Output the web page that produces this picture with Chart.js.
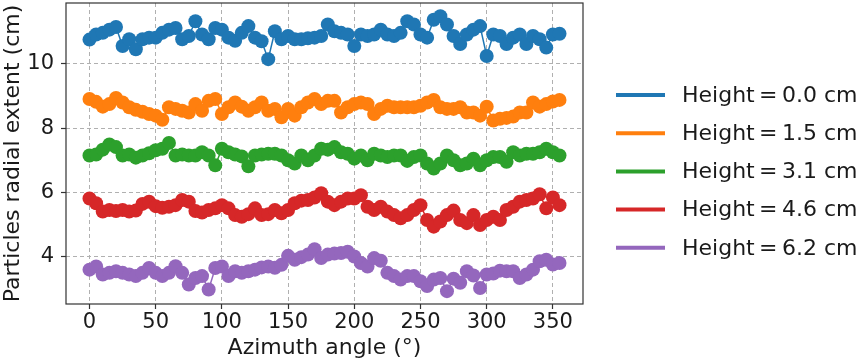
<!DOCTYPE html>
<html>
<head>
<meta charset="utf-8">
<script src="https://cdn.jsdelivr.net/npm/chart.js@4"></script>
<style>
  body { margin: 0; background: #fff; }
  canvas { display: block; }
</style>
</head>
<body>
<canvas id="myChart" width="858" height="362"></canvas>
<script>
const angles = [
  0, 5, 10, 15, 20, 25, 30, 35, 40, 45, 50, 55, 60, 65, 70, 75, 80, 85,
  90, 95, 100, 105, 110, 115, 120, 125, 130, 135, 140, 145, 150, 155, 160, 165, 170, 175,
  180, 185, 190, 195, 200, 205, 210, 215, 220, 225, 230, 235, 240, 245, 250, 255, 260, 265,
  270, 275, 280, 285, 290, 295, 300, 305, 310, 315, 320, 325, 330, 335, 340, 345, 350, 355
];

const height00 = [
  10.76, 10.92, 10.97, 11.07, 11.15, 10.56, 10.77, 10.46, 10.77, 10.82, 10.82, 10.97, 11.07, 11.12, 10.77, 10.87, 11.33, 10.92,
  10.77, 11.12, 11.07, 10.82, 10.72, 10.97, 11.18, 10.82, 10.71, 10.15, 11.02, 10.77, 10.87, 10.77, 10.77, 10.80, 10.82, 10.87,
  11.23, 11.02, 10.97, 10.92, 10.56, 10.92, 10.87, 10.92, 11.07, 10.92, 10.87, 10.97, 11.33, 11.23, 10.92, 10.82, 11.38, 11.49,
  11.23, 10.87, 10.62, 10.92, 11.07, 11.18, 10.25, 10.92, 10.87, 10.62, 10.82, 10.92, 10.62, 10.87, 10.77, 10.51, 10.92, 10.94
];
const height15 = [
  8.91, 8.82, 8.67, 8.75, 8.94, 8.80, 8.65, 8.57, 8.51, 8.44, 8.39, 8.26, 8.65, 8.60, 8.54, 8.49, 8.75, 8.54,
  8.85, 8.91, 8.44, 8.65, 8.80, 8.67, 8.54, 8.65, 8.80, 8.54, 8.60, 8.34, 8.60, 8.39, 8.65, 8.80, 8.91, 8.75,
  8.85, 8.85, 8.49, 8.65, 8.75, 8.80, 8.75, 8.44, 8.60, 8.70, 8.65, 8.65, 8.65, 8.65, 8.70, 8.80, 8.88, 8.65,
  8.60, 8.60, 8.65, 8.49, 8.49, 8.39, 8.67, 8.24, 8.29, 8.32, 8.36, 8.49, 8.49, 8.80, 8.67, 8.75, 8.83, 8.88
];
const height31 = [
  7.15, 7.18, 7.33, 7.49, 7.41, 7.15, 7.18, 7.08, 7.15, 7.22, 7.31, 7.36, 7.54, 7.15, 7.18, 7.15, 7.15, 7.25,
  7.15, 6.84, 7.36, 7.25, 7.18, 7.12, 6.81, 7.15, 7.18, 7.20, 7.20, 7.15, 7.00, 6.90, 7.15, 7.00, 7.15, 7.36,
  7.33, 7.41, 7.25, 7.20, 7.05, 7.15, 7.00, 7.20, 7.15, 7.10, 7.15, 7.15, 6.98, 7.10, 7.15, 6.90, 6.74, 6.90,
  7.15, 7.00, 6.84, 6.90, 7.05, 6.84, 7.00, 7.10, 7.10, 6.95, 7.25, 7.15, 7.20, 7.20, 7.25, 7.36, 7.25, 7.15
];
const height46 = [
  5.81, 5.66, 5.40, 5.45, 5.42, 5.45, 5.40, 5.43, 5.64, 5.71, 5.57, 5.52, 5.55, 5.60, 5.76, 5.71, 5.42, 5.37,
  5.45, 5.50, 5.60, 5.50, 5.29, 5.24, 5.32, 5.50, 5.29, 5.32, 5.45, 5.35, 5.45, 5.66, 5.74, 5.76, 5.84, 5.97,
  5.71, 5.60, 5.71, 5.81, 5.81, 5.91, 5.55, 5.45, 5.55, 5.40, 5.29, 5.19, 5.29, 5.45, 5.60, 5.14, 4.93, 5.09,
  5.29, 5.43, 5.14, 5.04, 5.29, 4.98, 5.14, 5.24, 5.14, 5.45, 5.55, 5.71, 5.76, 5.81, 5.94, 5.50, 5.84, 5.60
];
const height62 = [
  3.59, 3.69, 3.44, 3.49, 3.54, 3.49, 3.44, 3.39, 3.49, 3.64, 3.49, 3.39, 3.49, 3.70, 3.49, 3.13, 3.33, 3.39,
  2.97, 3.64, 3.69, 3.39, 3.54, 3.49, 3.54, 3.59, 3.66, 3.69, 3.65, 3.74, 4.02, 3.90, 3.98, 4.06, 4.23, 3.95,
  4.06, 4.09, 4.11, 4.15, 4.00, 3.80, 3.69, 3.95, 3.87, 3.49, 3.39, 3.28, 3.39, 3.39, 3.23, 3.08, 3.28, 3.33,
  2.92, 3.31, 3.18, 3.54, 3.41, 3.02, 3.44, 3.47, 3.56, 3.54, 3.54, 3.33, 3.44, 3.59, 3.85, 3.90, 3.75, 3.80
];

const seriesLabels = ['Height\u2009=\u20090.0 cm', 'Height\u2009=\u20091.5 cm', 'Height\u2009=\u20093.1 cm', 'Height\u2009=\u20094.6 cm', 'Height\u2009=\u20096.2 cm'];
const seriesColors = ['#1f77b4', '#ff7f0e', '#2ca02c', '#d62728', '#9467bd'];
const xTicks = [0, 50, 100, 150, 200, 250, 300, 350];
const yTicks = [4, 6, 8, 10];

const allSeries = [height00, height15, height31, height46, height62];
const fontFamily = '"DejaVu Sans", sans-serif';

const datasets = allSeries.map((vals, i) => ({
  label: seriesLabels[i],
  data: angles.map((a, j) => ({ x: a, y: vals[j] })),
  borderColor: seriesColors[i],
  backgroundColor: seriesColors[i],
  borderWidth: 1.5,
  pointRadius: 7,
  pointBorderWidth: 0,
  pointHoverRadius: 7,
  tension: 0
}));

// full box around the plot area, like matplotlib spines
const framePlugin = {
  id: 'frame',
  afterDatasetsDraw(chart) {
    const { ctx, chartArea: a } = chart;
    ctx.save();
    ctx.strokeStyle = '#333';
    ctx.lineWidth = 1.2;
    ctx.strokeRect(a.left, a.top, a.right - a.left, a.bottom - a.top);
    ctx.restore();
  }
};

// legend on the right with thick line handles
const legendPlugin = {
  id: 'sideLegend',
  afterDraw(chart) {
    const ctx = chart.ctx;
    const x0 = 616, x1 = 665, tx = 682, y0 = 95, dy = 38.2;
    ctx.save();
    ctx.font = '22px ' + fontFamily;
    ctx.textBaseline = 'middle';
    ctx.textAlign = 'left';
    seriesLabels.forEach((lab, i) => {
      const y = y0 + i * dy;
      ctx.strokeStyle = seriesColors[i];
      ctx.lineWidth = 4;
      ctx.beginPath();
      ctx.moveTo(x0, y);
      ctx.lineTo(x1, y);
      ctx.stroke();
      ctx.fillStyle = '#1a1a1a';
      ctx.fillText(lab, tx, y + 1);
    });
    ctx.restore();
  }
};

const config = {
  type: 'line',
  data: { datasets: datasets },
  options: {
    responsive: false,
    animation: false,
    devicePixelRatio: 1,
    layout: { autoPadding: false, padding: { top: 3, right: 275, left: 0, bottom: 0 } },
    plugins: {
      legend: { display: false },
      tooltip: { enabled: false }
    },
    scales: {
      x: {
        type: 'linear',
        min: -17.75,
        max: 372.75,
        afterBuildTicks: (s) => { s.ticks = xTicks.map(v => ({ value: v })); },
        afterFit: (s) => { s.height = 58; s.paddingLeft = 0; s.paddingRight = 0; },
        ticks: { color: '#1a1a1a', font: { family: fontFamily, size: 21 }, padding: 1, maxRotation: 0 },
        grid: { color: '#b0b0b0', lineWidth: 1, tickColor: '#333', tickLength: 5, tickWidth: 1.2 },
        border: { display: false, dash: [4, 3] },
        title: {
          display: true,
          text: 'Azimuth angle (°)',
          color: '#1a1a1a',
          font: { family: fontFamily, size: 22 },
          padding: { top: 0, bottom: 1 }
        }
      },
      y: {
        type: 'linear',
        min: 2.52,
        max: 11.9,
        afterBuildTicks: (s) => { s.ticks = yTicks.map(v => ({ value: v })); },
        afterFit: (s) => { s.width = 66; s.paddingTop = 0; s.paddingBottom = 0; },
        ticks: { color: '#1a1a1a', font: { family: fontFamily, size: 21 }, padding: 7 },
        grid: { color: '#b0b0b0', lineWidth: 1, tickColor: '#333', tickLength: 5, tickWidth: 1.2 },
        border: { display: false, dash: [4, 3] },
        title: {
          display: true,
          text: 'Particles radial extent (cm)',
          color: '#1a1a1a',
          font: { family: fontFamily, size: 22 },
          padding: { top: 0, bottom: 0 }
        }
      }
    }
  },
  plugins: [framePlugin, legendPlugin]
};

const canvas = document.getElementById('myChart');
const myChart = new Chart(canvas, config);
</script>
</body>
</html>
